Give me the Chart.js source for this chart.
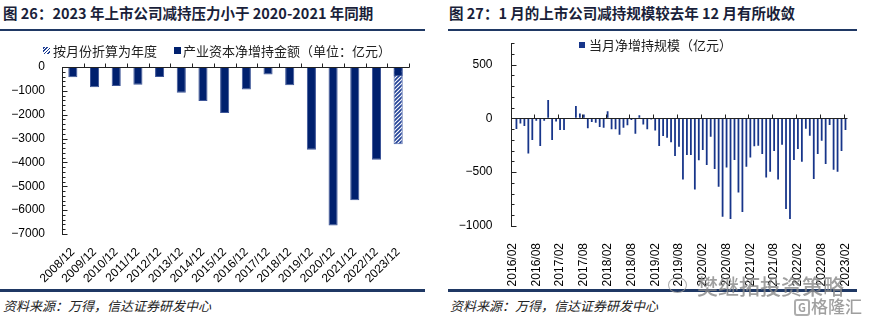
<!DOCTYPE html>
<html>
<head>
<meta charset="utf-8">
<script src="https://cdn.jsdelivr.net/npm/chart.js@4.4.0/dist/chart.umd.min.js"></script>
<style>
body{margin:0;background:#fff;width:869px;height:323px;position:relative;overflow:hidden;font-family:'Noto Sans CJK SC',sans-serif;}
.t{position:absolute;top:3px;font-size:14.5px;font-weight:700;color:#1a1f3a;white-space:nowrap;line-height:20px;}
.rule{position:absolute;background:#1f3864;}
.lg{position:absolute;font-size:13px;color:#222;white-space:nowrap;line-height:16px;}
.sw{position:absolute;width:7px;height:7px;}
.src{position:absolute;top:298px;font-size:13px;font-style:italic;color:#222;white-space:nowrap;line-height:16px;}
canvas{position:absolute;}
.wm{position:absolute;color:#888;opacity:0.8;white-space:nowrap;}
</style>
</head>
<body>
<div class="t" style="left:3px">图 26：2023 年上市公司减持压力小于 2020-2021 年同期</div>
<div class="rule" style="left:0;top:29px;width:425px;height:2px"></div>
<div class="t" style="left:449px">图 27：1 月的上市公司减持规模较去年 12 月有所收敛</div>
<div class="rule" style="left:448px;top:29px;width:409px;height:2px"></div>

<canvas id="c1" width="430" height="235" style="left:0;top:55px"></canvas>
<canvas id="c2" width="434" height="255" style="left:435px;top:35px"></canvas>

<div class="sw" style="left:43px;top:47px;background:repeating-linear-gradient(-45deg,#fff 0 1.2px,#1f3f95 1.2px 2.4px);"></div>
<div class="lg" style="left:53px;top:43px">按月份折算为年度</div>
<div class="sw" style="left:174px;top:47px;background:#00206e"></div>
<div class="lg" style="left:183px;top:43px">产业资本净增持金额（单位：亿元）</div>
<div class="sw" style="left:579px;top:42px;width:6px;height:6px;background:#17358a"></div>
<div class="lg" style="left:589px;top:37px">当月净增持规模（亿元）</div>

<div class="rule" style="left:0;top:289px;width:425px;height:2.5px"></div>
<div class="rule" style="left:448px;top:289px;width:409px;height:2.5px"></div>
<div class="src" style="left:3px">资料来源：万得，信达证券研发中心</div>
<div class="src" style="left:450px">资料来源：万得，信达证券研发中心</div>

<div class="wm" style="left:668px;top:277px;width:17px;height:14px;border:1.5px solid #999;border-radius:50%"></div>
<div class="wm" style="left:697px;top:272px;font-size:21px;line-height:26px;font-weight:500">樊继拓投资策略</div>
<div class="wm" style="left:794px;top:299px;width:12px;height:13px;border:2px solid #999;border-radius:3px;font-size:11px;line-height:13px;text-align:center;font-weight:700">G</div>
<div class="wm" style="left:811px;top:296px;font-size:17px;line-height:20px;font-weight:500">格隆汇</div>

<script>
// 图26 年度数据
const years = ['2008/12', '2009/12', '2010/12', '2011/12', '2012/12', '2013/12', '2014/12', '2015/12',
  '2016/12', '2017/12', '2018/12', '2019/12', '2020/12', '2021/12', '2022/12', '2023/12'];
const netHolding = [-430, -850, -800, -740, -420, -1080, -1430, -1930, -940, -310, -760, -3470, -6640, -5590, -3890, -390];
const annualized = [null, null, null, null, null, null, null, null, null, null, null, null, null, null, null, -3235];

// 图27 月度数据
const months = [
  '2016/02', '2016/03', '2016/04', '2016/05', '2016/06', '2016/07', '2016/08', '2016/09', '2016/10', '2016/11', '2016/12',
  '2017/01', '2017/02', '2017/03', '2017/04', '2017/05', '2017/06', '2017/07', '2017/08', '2017/09', '2017/10', '2017/11', '2017/12',
  '2018/01', '2018/02', '2018/03', '2018/04', '2018/05', '2018/06', '2018/07', '2018/08', '2018/09', '2018/10', '2018/11', '2018/12',
  '2019/01', '2019/02', '2019/03', '2019/04', '2019/05', '2019/06', '2019/07', '2019/08', '2019/09', '2019/10', '2019/11', '2019/12',
  '2020/01', '2020/02', '2020/03', '2020/04', '2020/05', '2020/06', '2020/07', '2020/08', '2020/09', '2020/10', '2020/11', '2020/12',
  '2021/01', '2021/02', '2021/03', '2021/04', '2021/05', '2021/06', '2021/07', '2021/08', '2021/09', '2021/10', '2021/11', '2021/12',
  '2022/01', '2022/02', '2022/03', '2022/04', '2022/05', '2022/06', '2022/07', '2022/08', '2022/09', '2022/10', '2022/11', '2022/12',
  '2023/01', '2023/02'];
const monthlyNet = [
  null, -100, -47, -71, -326, -200, -22, -257, -22, 170, -200,
  -30, -108, -108, -3, 5, 115, 45, 35, -93, -33, -40, -80,
  -87, 65, -102, -102, -152, -87, -65, -16, -143, 28, -56, -102,
  -10, -112, -257, -164, -180, -223, -350, -264, -567, -341, -341, -660,
  -390, -295, -434, -171, -471, -636, -915, -456, -936, -388, -688, -871,
  -450, -363, -260, -254, -330, -549, -496, -303, -568, -245, -843, -936,
  -388, -285, -403, -96, -161, -564, -330, -208, -425, -62, -478, -496,
  -303, -108];

const NAVY = '#00206e';
const fmt = v => (v < 0 ? '\u2212' + Math.abs(v) : String(v));

function hatch(color) {
  const c = document.createElement('canvas');
  c.width = 4; c.height = 4;
  const g = c.getContext('2d');
  g.fillStyle = '#fff';
  g.fillRect(0, 0, 4, 4);
  g.strokeStyle = color;
  g.lineWidth = 1.6;
  g.beginPath();
  g.moveTo(0, 4); g.lineTo(4, 0);
  g.moveTo(-1, 1); g.lineTo(1, -1);
  g.moveTo(3, 5); g.lineTo(5, 3);
  g.stroke();
  return g.createPattern(c, 'repeat');
}

// zero line with small ticks, y axis line with inside ticks
const axisMarks = {
  id: 'axisMarks',
  afterDatasetsDraw(chart, args, o) {
    const { ctx, chartArea: a, scales: { x, y } } = chart;
    const n = chart.data.labels.length;
    const ax = Math.round(a.left) + 0.5;
    const y0 = Math.round(y.getPixelForValue(0)) + 0.5;
    ctx.save();
    ctx.strokeStyle = '#222';
    ctx.lineWidth = 1;
    ctx.beginPath();
    ctx.moveTo(ax, Math.round(a.top));
    ctx.lineTo(ax, Math.round(a.bottom) + 1);
    ctx.moveTo(ax, y0);
    ctx.lineTo(Math.round(a.right) + 0.5, y0);
    for (let i = o.xFrom; i <= n; i += o.xEvery) {
      const px = Math.round(x.getPixelForValue(i - 0.5)) + 0.5;
      ctx.moveTo(px, y0);
      ctx.lineTo(px, y0 - 4);
    }
    for (let v = y.min; v <= y.max; v += o.yMinor) {
      const py = Math.round(y.getPixelForValue(v)) + 0.5;
      ctx.moveTo(ax, py);
      ctx.lineTo(ax + (v % o.yMajor === 0 ? 5 : 3), py);
    }
    ctx.stroke();
    ctx.restore();
  }
};

Chart.defaults.font.family = "'Liberation Sans', Arial, sans-serif";
Chart.defaults.font.size = 12;
Chart.defaults.color = '#000';

// invisible tick marks only push the labels away from the axis
const hiddenGrid = len => ({ display: true, drawOnChartArea: false, drawTicks: true, tickLength: len, color: 'rgba(0,0,0,0)' });

new Chart(document.getElementById('c1'), {
  type: 'bar',
  data: {
    labels: years,
    datasets: [{
      label: '产业资本净增持金额（单位：亿元）',
      data: netHolding,
      backgroundColor: NAVY,
      borderColor: '#3d5597',
      borderWidth: 1,
      borderSkipped: 'start',
      grouped: false,
      order: 1,
      barPercentage: 0.42,
      categoryPercentage: 1
    }, {
      label: '按月份折算为年度',
      data: annualized,
      backgroundColor: hatch('#1f3f95'),
      borderColor: '#4a62a6',
      borderWidth: 1,
      borderSkipped: 'start',
      grouped: false,
      order: 2,
      barPercentage: 0.42,
      categoryPercentage: 1
    }]
  },
  options: {
    responsive: false,
    animation: false,
    devicePixelRatio: 1,
    layout: { padding: { top: 12, right: 21, left: 0, bottom: 0 } },
    plugins: {
      legend: { display: false },
      tooltip: { enabled: false },
      axisMarks: { xFrom: 1, xEvery: 1, yMinor: 200, yMajor: 1000 }
    },
    scales: {
      x: {
        grid: { display: false },
        border: { display: false },
        ticks: { autoSkip: false, minRotation: 45, maxRotation: 45, padding: 3 },
        afterFit: s => { s.height = 56; }
      },
      y: {
        min: -7000,
        max: 0,
        grid: hiddenGrid(17),
        border: { display: false },
        ticks: { stepSize: 1000, padding: 0, autoSkip: false, callback: v => fmt(v) },
        afterFit: s => { s.width = 62; }
      }
    }
  },
  plugins: [axisMarks]
});

new Chart(document.getElementById('c2'), {
  type: 'bar',
  data: {
    labels: months,
    datasets: [{
      label: '当月净增持规模（亿元）',
      data: monthlyNet,
      backgroundColor: '#17358a',
      barPercentage: 0.45,
      categoryPercentage: 1
    }]
  },
  options: {
    responsive: false,
    animation: false,
    devicePixelRatio: 1,
    layout: { padding: { top: 8, right: 20, left: 0, bottom: 0 } },
    plugins: {
      legend: { display: false },
      tooltip: { enabled: false },
      axisMarks: { xFrom: 6, xEvery: 6, yMinor: 100, yMajor: 500 }
    },
    scales: {
      x: {
        grid: { display: false },
        border: { display: false },
        ticks: {
          autoSkip: false, minRotation: 90, maxRotation: 90, padding: 9,
          callback: (v, i) => (i % 6 === 0 ? months[i] : '')
        },
        afterFit: s => { s.height = 64; }
      },
      y: {
        min: -1000,
        max: 700,
        grid: hiddenGrid(18),
        border: { display: false },
        ticks: { stepSize: 100, padding: 0, autoSkip: false, callback: v => (v % 500 === 0 ? fmt(v) : '') },
        afterFit: s => { s.width = 75.5; }
      }
    }
  },
  plugins: [axisMarks]
});
</script>
</body>
</html>
